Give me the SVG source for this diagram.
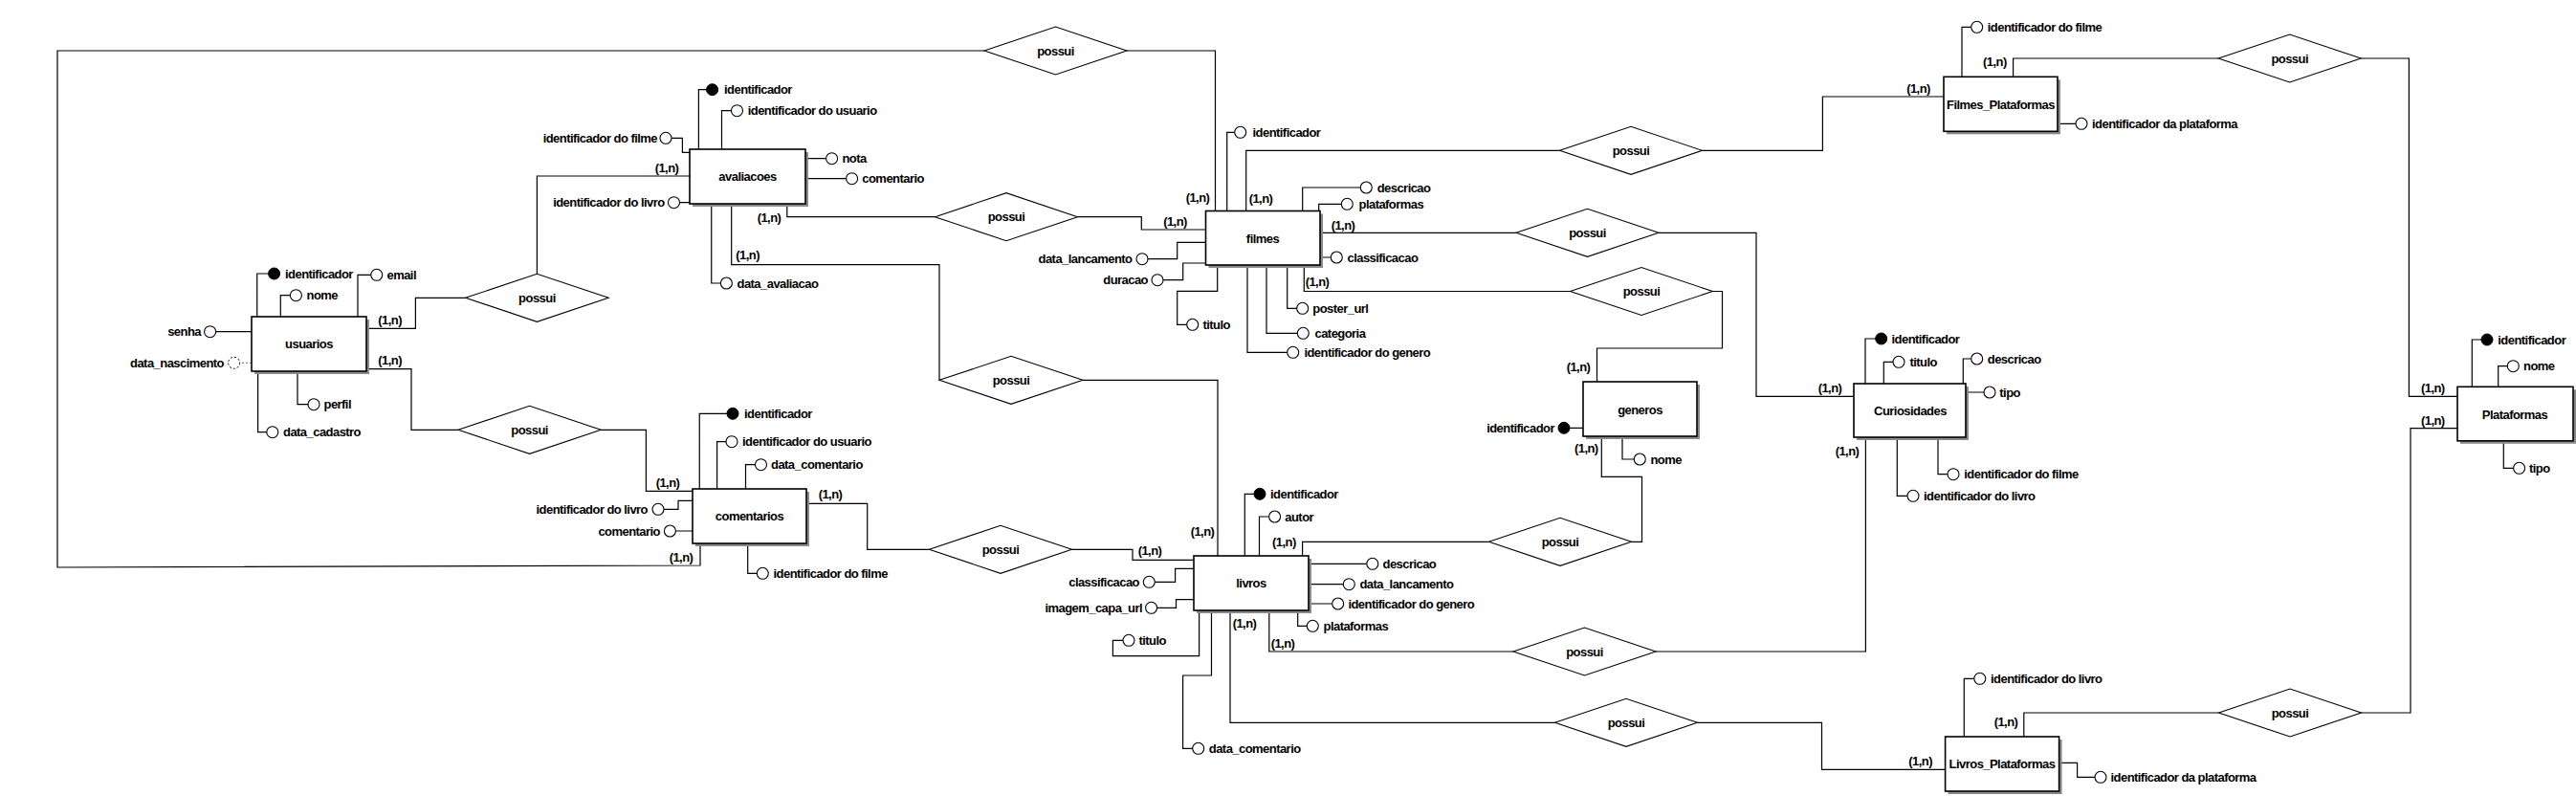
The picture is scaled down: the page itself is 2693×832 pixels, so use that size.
<svg xmlns="http://www.w3.org/2000/svg" width="2693" height="832" viewBox="0 0 2693 832">
<style>
text{font-family:"Liberation Sans",Arial,sans-serif;font-weight:bold;font-size:13px;letter-spacing:-0.55px;fill:#000}
.m{text-anchor:middle}
.r{text-anchor:end}
.sh{fill:#8a8a8a}
.box{fill:#fff;stroke:#000;stroke-width:1.6}
.dia{fill:#fff;stroke:#000;stroke-width:1.1}
.ln{fill:none;stroke:#000;stroke-width:1.2}
.at{fill:#fff;stroke:#000;stroke-width:1.1}
.pk{fill:#000;stroke:#000;stroke-width:1}
.ds{fill:#fff;stroke:#000;stroke-width:1;stroke-dasharray:2 2}
.dl{fill:none;stroke:#666;stroke-width:1;stroke-dasharray:2 2}
</style>
<rect width="2693" height="832" fill="#fff"/>

<g id="connectors">
<path class="ln" d="M732,567 V591 L60,593 V53 H1029 M1178,53 H1270.5 V220.5"/>
<path class="ln" d="M383,343.3 H434.4 V311.3 H486.6 M561.4,286.3 V184 H721"/>
<path class="ln" d="M383,385.7 H430 V449.3 H479 M628.2,449.3 H675.4 V513.3 H724"/>
<path class="ln" d="M822.8,213 V226.7 H977.5 M1126.5,226.7 H1193.3 V240 H1260.5"/>
<path class="ln" d="M764.7,213 V276.7 H982 V397.3 M1132,397.3 H1273 V581"/>
<path class="ln" d="M843,526.3 H906.7 V574.3 H971.5 M1120.5,574.3 H1184 V585.3 H1248"/>
<path class="ln" d="M1302.7,220.5 V157.3 H1630.5 M1779.5,157.3 H1905.4 V101 H2032"/>
<path class="ln" d="M1380,243.3 H1585 M1734,243.3 H1836 V414.3 H1938"/>
<path class="ln" d="M1363.3,277 V304.5 H1641.5 M1790.5,304.5 H1800.5 V364 H1669.5 V399"/>
<path class="ln" d="M1361.6,581 V566.3 H1556.5 M1705.5,566.3 H1716.5 V498.3 H1674.3 V456"/>
<path class="ln" d="M1326.8,638 V681 H1582 M1731,681 H1950.4 V457"/>
<path class="ln" d="M1286,638 V755.3 H1625.5 M1774.5,755.3 H1904.5 V804.3 H2033.6"/>
<path class="ln" d="M2104.6,80.3 V61 H2319.2 M2468.2,61 H2518.4 V414.3 H2569"/>
<path class="ln" d="M2569,447.7 H2520 V745 H2468.5 M2319.5,745 H2115.8 V770"/>
<text class="m" x="712" y="586.5">(1,n)</text>
<text class="m" x="1252" y="210.5">(1,n)</text>
<text class="m" x="407.6" y="338.5">(1,n)</text>
<text class="m" x="697" y="179.5">(1,n)</text>
<text class="m" x="407.6" y="380.5">(1,n)</text>
<text class="m" x="698" y="508.5">(1,n)</text>
<text class="m" x="804" y="231.8">(1,n)</text>
<text class="m" x="1228.5" y="235.5">(1,n)</text>
<text class="m" x="781.7" y="271.2">(1,n)</text>
<text class="m" x="1257" y="559.5">(1,n)</text>
<text class="m" x="868" y="521.2">(1,n)</text>
<text class="m" x="1202" y="580.2">(1,n)</text>
<text class="m" x="1318" y="211.5">(1,n)</text>
<text class="m" x="2005.5" y="96.8">(1,n)</text>
<text class="m" x="1404" y="239.5">(1,n)</text>
<text class="m" x="1913" y="410.2">(1,n)</text>
<text class="m" x="1377" y="299">(1,n)</text>
<text class="m" x="1650" y="387.8">(1,n)</text>
<text class="m" x="1342.4" y="570.5">(1,n)</text>
<text class="m" x="1658.3" y="472.8">(1,n)</text>
<text class="m" x="1341" y="677.2">(1,n)</text>
<text class="m" x="1931" y="476.2">(1,n)</text>
<text class="m" x="1301" y="656.2">(1,n)</text>
<text class="m" x="2007.7" y="799.5">(1,n)</text>
<text class="m" x="2085.4" y="68.5">(1,n)</text>
<text class="m" x="2543.3" y="409.5">(1,n)</text>
<text class="m" x="2543.3" y="443.5">(1,n)</text>
<text class="m" x="2097" y="758.5">(1,n)</text>
</g>

<g id="rel-comentarios-filmes"><polygon class="dia" points="1029,53 1103.5,28 1178,53 1103.5,78"/><text class="m" x="1103.5" y="57.5">possui</text></g>
<g id="rel-usuarios-avaliacoes"><polygon class="dia" points="486.6,311.3 561.4,286.3 636.2,311.3 561.4,336.3"/><text class="m" x="561.4" y="315.8">possui</text></g>
<g id="rel-usuarios-comentarios"><polygon class="dia" points="479,449.3 553.6,424.3 628.2,449.3 553.6,474.3"/><text class="m" x="553.6" y="453.8">possui</text></g>
<g id="rel-avaliacoes-filmes"><polygon class="dia" points="977.5,226.7 1052,201.7 1126.5,226.7 1052,251.7"/><text class="m" x="1052" y="231.2">possui</text></g>
<g id="rel-avaliacoes-livros"><polygon class="dia" points="982,397.3 1057,372.3 1132,397.3 1057,422.3"/><text class="m" x="1057" y="401.8">possui</text></g>
<g id="rel-comentarios-livros"><polygon class="dia" points="971.5,574.3 1046,549.3 1120.5,574.3 1046,599.3"/><text class="m" x="1046" y="578.8">possui</text></g>
<g id="rel-filmes-fp"><polygon class="dia" points="1630.5,157.3 1705,132.3 1779.5,157.3 1705,182.3"/><text class="m" x="1705" y="161.8">possui</text></g>
<g id="rel-filmes-curiosidades"><polygon class="dia" points="1585,243.3 1659.5,218.3 1734,243.3 1659.5,268.3"/><text class="m" x="1659.5" y="247.8">possui</text></g>
<g id="rel-filmes-generos"><polygon class="dia" points="1641.5,304.5 1716,279.5 1790.5,304.5 1716,329.5"/><text class="m" x="1716" y="309">possui</text></g>
<g id="rel-livros-generos"><polygon class="dia" points="1556.5,566.3 1631,541.3 1705.5,566.3 1631,591.3"/><text class="m" x="1631" y="570.8">possui</text></g>
<g id="rel-livros-curiosidades"><polygon class="dia" points="1582,681 1656.5,656 1731,681 1656.5,706"/><text class="m" x="1656.5" y="685.5">possui</text></g>
<g id="rel-livros-lp"><polygon class="dia" points="1625.5,755.3 1700,730.3 1774.5,755.3 1700,780.3"/><text class="m" x="1700" y="759.8">possui</text></g>
<g id="rel-fp-plataformas"><polygon class="dia" points="2319.2,61 2393.7,36 2468.2,61 2393.7,86"/><text class="m" x="2393.7" y="65.5">possui</text></g>
<g id="rel-lp-plataformas"><polygon class="dia" points="2319.5,745 2394,720 2468.5,745 2394,770"/><text class="m" x="2394" y="749.5">possui</text></g>

<g id="usuarios">
<path class="ln" d="M268.75,331 V286 H286.6 M293.3,331 V308.7 H309.4 M374,331 V287.3 H393.75 M263,346.7 H219.6 M311,388 V422.7 H328 M269.6,388 V451.7 H284.8"/>
<path class="dl" d="M263,379.3 H250"/>
<rect class="sh" x="266" y="334" width="120" height="57"/><rect class="box" x="263" y="331" width="120" height="57"/>
<text class="m" x="323" y="364">usuarios</text>
<circle class="pk" cx="286.6" cy="286" r="6"/><text x="298" y="290.5">identificador</text>
<circle class="at" cx="309.4" cy="308.7" r="6"/><text x="320.5" y="313.2">nome</text>
<circle class="at" cx="393.75" cy="287.3" r="6"/><text x="404.5" y="291.8">email</text>
<circle class="at" cx="219.6" cy="346.7" r="6"/><text class="r" x="210" y="351.2">senha</text>
<circle class="ds" cx="244.6" cy="379.3" r="6"/><text class="r" x="234" y="383.8">data_nascimento</text>
<circle class="at" cx="328" cy="422.7" r="6"/><text x="338.5" y="427.2">perfil</text>
<circle class="at" cx="284.8" cy="451.7" r="6"/><text x="296" y="456.2">data_cadastro</text>
</g>

<g id="avaliacoes">
<path class="ln" d="M730.4,156 V93.7 H744.6 M754.5,156 V115.7 H770.5 M721,159.3 H713.4 V144.3 H696 M721,211.7 H704.5 M842,165.7 H869.6 M842,186.7 H890.6 M743.75,213 V296 H759.4"/>
<rect class="sh" x="724" y="159" width="121" height="57"/><rect class="box" x="721" y="156" width="121" height="57"/>
<text class="m" x="781.5" y="189">avaliacoes</text>
<circle class="pk" cx="744.6" cy="93.7" r="6"/><text x="757" y="98.2">identificador</text>
<circle class="at" cx="770.5" cy="115.7" r="6"/><text x="781.7" y="120.2">identificador do usuario</text>
<circle class="at" cx="696" cy="144.3" r="6"/><text class="r" x="687" y="148.8">identificador do filme</text>
<circle class="at" cx="704.5" cy="211.7" r="6"/><text class="r" x="694.6" y="216.2">identificador do livro</text>
<circle class="at" cx="869.6" cy="165.7" r="6"/><text x="880.4" y="170.2">nota</text>
<circle class="at" cx="890.6" cy="186.7" r="6"/><text x="901.3" y="191.2">comentario</text>
<circle class="at" cx="759.4" cy="296" r="6"/><text x="770.5" y="300.5">data_avaliacao</text>
</g>

<g id="comentarios">
<path class="ln" d="M731.25,511 V432.3 H766 M749.6,511 V461.7 H765 M779.5,511 V485.7 H795.5 M724,523.3 H709 V532.3 H688 M724,555 H700.4 M781.7,568 V599.3 H797.3"/>
<rect class="sh" x="727" y="514" width="119" height="57"/><rect class="box" x="724" y="511" width="119" height="57"/>
<text class="m" x="783.5" y="544">comentarios</text>
<circle class="pk" cx="766" cy="432.3" r="6"/><text x="778" y="436.8">identificador</text>
<circle class="at" cx="765" cy="461.7" r="6"/><text x="776" y="466.2">identificador do usuario</text>
<circle class="at" cx="795.5" cy="485.7" r="6"/><text x="806" y="490.2">data_comentario</text>
<circle class="at" cx="688" cy="532.3" r="6"/><text class="r" x="677" y="536.8">identificador do livro</text>
<circle class="at" cx="700.4" cy="555" r="6"/><text class="r" x="690" y="559.5">comentario</text>
<circle class="at" cx="797.3" cy="599.3" r="6"/><text x="808.5" y="603.8">identificador do filme</text>
</g>

<g id="filmes">
<path class="ln" d="M1282.7,220.5 V138.3 H1296.7 M1361.7,220.5 V196 H1428.3 M1378.7,220.5 V213.3 H1408.3 M1380,269 H1397.3 M1345.7,277 V322.3 H1361.7 M1324,277 V348.3 H1362.3 M1304,277 V368.3 H1351.7 M1260.5,253.3 H1230.7 V270.7 H1194 M1260.5,275 H1236.7 V292.7 H1210 M1272.7,277 V304.3 H1230.7 V339.3 H1246.7"/>
<rect class="sh" x="1263.5" y="223.5" width="119.5" height="56.5"/><rect class="box" x="1260.5" y="220.5" width="119.5" height="56.5"/>
<text class="m" x="1320" y="253.5">filmes</text>
<circle class="at" cx="1296.7" cy="138.3" r="6"/><text x="1309.5" y="142.8">identificador</text>
<circle class="at" cx="1428.3" cy="196" r="6"/><text x="1439.7" y="200.5">descricao</text>
<circle class="at" cx="1408.3" cy="213.3" r="6"/><text x="1420.5" y="217.8">plataformas</text>
<circle class="at" cx="1397.3" cy="269" r="6"/><text x="1408.5" y="273.5">classificacao</text>
<circle class="at" cx="1361.7" cy="322.3" r="6"/><text x="1372.3" y="326.8">poster_url</text>
<circle class="at" cx="1362.3" cy="348.3" r="6"/><text x="1374.5" y="352.8">categoria</text>
<circle class="at" cx="1351.7" cy="368.3" r="6"/><text x="1363.4" y="372.8">identificador do genero</text>
<circle class="at" cx="1194" cy="270.7" r="6"/><text class="r" x="1183.5" y="275.2">data_lancamento</text>
<circle class="at" cx="1210" cy="292.7" r="6"/><text class="r" x="1200" y="297.2">duracao</text>
<circle class="at" cx="1246.7" cy="339.3" r="6"/><text x="1257.5" y="343.8">titulo</text>
</g>

<g id="livros">
<path class="ln" d="M1301.3,581 V516.3 H1317 M1316.5,581 V540 H1332.6 M1368,589.3 H1434.8 M1368,610.7 H1410.3 M1368,631 H1398.7 M1356.7,638 V654.3 H1372.3 M1248,594.3 H1228.6 V608.3 H1201.3 M1248,626.7 H1229.5 V635.3 H1203.6 M1253.6,638 V685.7 H1163.4 V669.3 H1180 M1266.5,638 V706 H1236.6 V782.3 H1252.7"/>
<rect class="sh" x="1251" y="584" width="120" height="57"/><rect class="box" x="1248" y="581" width="120" height="57"/>
<text class="m" x="1308" y="614">livros</text>
<circle class="pk" cx="1317" cy="516.3" r="6"/><text x="1328" y="520.8">identificador</text>
<circle class="at" cx="1332.6" cy="540" r="6"/><text x="1343.3" y="544.5">autor</text>
<circle class="at" cx="1434.8" cy="589.3" r="6"/><text x="1445.5" y="593.8">descricao</text>
<circle class="at" cx="1410.3" cy="610.7" r="6"/><text x="1421.4" y="615.2">data_lancamento</text>
<circle class="at" cx="1398.7" cy="631" r="6"/><text x="1409.4" y="635.5">identificador do genero</text>
<circle class="at" cx="1372.3" cy="654.3" r="6"/><text x="1383.5" y="658.8">plataformas</text>
<circle class="at" cx="1201.3" cy="608.3" r="6"/><text class="r" x="1191" y="612.8">classificacao</text>
<circle class="at" cx="1203.6" cy="635.3" r="6"/><text class="r" x="1194" y="639.8">imagem_capa_url</text>
<circle class="at" cx="1180" cy="669.3" r="6"/><text x="1190.5" y="673.8">titulo</text>
<circle class="at" cx="1252.7" cy="782.3" r="6"/><text x="1263.8" y="786.8">data_comentario</text>
</g>

<g id="generos">
<path class="ln" d="M1655,447.3 H1635 M1696,456 V480 H1714.3"/>
<rect class="sh" x="1658" y="402" width="119" height="57"/><rect class="box" x="1655" y="399" width="119" height="57"/>
<text class="m" x="1714.5" y="432.5">generos</text>
<circle class="pk" cx="1635" cy="447.3" r="6"/><text class="r" x="1625" y="451.8">identificador</text>
<circle class="at" cx="1714.3" cy="480" r="6"/><text x="1725.4" y="484.5">nome</text>
</g>

<g id="Curiosidades">
<path class="ln" d="M1950,401 V354 H1966.7 M1969.3,401 V378.3 H1985 M2052.3,401 V375 H2066.7 M2055,410 H2080 M2026,457 V495.7 H2042 M1983.3,457 V518.3 H2000"/>
<rect class="sh" x="1941" y="404" width="117" height="56"/><rect class="box" x="1938" y="401" width="117" height="56"/>
<text class="m" x="1997" y="433.5">Curiosidades</text>
<circle class="pk" cx="1966.7" cy="354" r="6"/><text x="1977.5" y="358.5">identificador</text>
<circle class="at" cx="1985" cy="378.3" r="6"/><text x="1996.5" y="382.8">titulo</text>
<circle class="at" cx="2066.7" cy="375" r="6"/><text x="2077.8" y="379.5">descricao</text>
<circle class="at" cx="2080" cy="410" r="6"/><text x="2090.3" y="414.5">tipo</text>
<circle class="at" cx="2042" cy="495.7" r="6"/><text x="2053.3" y="500.2">identificador do filme</text>
<circle class="at" cx="2000" cy="518.3" r="6"/><text x="2011" y="522.8">identificador do livro</text>
</g>

<g id="Filmes_Plataformas">
<path class="ln" d="M2051,80.3 V28.3 H2066.7 M2151,129.3 H2176"/>
<rect class="sh" x="2035" y="83.3" width="119" height="57"/><rect class="box" x="2032" y="80.3" width="119" height="57"/>
<text class="m" x="2091.5" y="114">Filmes_Plataformas</text>
<circle class="at" cx="2066.7" cy="28.3" r="6"/><text x="2077.8" y="32.8">identificador do filme</text>
<circle class="at" cx="2176" cy="129.3" r="6"/><text x="2187" y="133.8">identificador da plataforma</text>
</g>

<g id="Plataformas">
<path class="ln" d="M2584.3,404.3 V355 H2600 M2611.7,404.3 V382.7 H2627.3 M2617.3,461 V489.3 H2633.6"/>
<rect class="sh" x="2572" y="407.3" width="121" height="56.5"/><rect class="box" x="2569" y="404.3" width="121" height="56.5"/>
<text class="m" x="2629" y="437.5">Plataformas</text>
<circle class="pk" cx="2600" cy="355" r="6"/><text x="2611.3" y="359.5">identificador</text>
<circle class="at" cx="2627.3" cy="382.7" r="6"/><text x="2638" y="387.2">nome</text>
<circle class="at" cx="2633.6" cy="489.3" r="6"/><text x="2644" y="493.8">tipo</text>
</g>

<g id="Livros_Plataformas">
<path class="ln" d="M2053.3,770 V709.3 H2069.8 M2152.6,797.3 H2171.6 V812.3 H2196"/>
<rect class="sh" x="2036.6" y="773" width="119" height="57"/><rect class="box" x="2033.6" y="770" width="119" height="57"/>
<text class="m" x="2093" y="803">Livros_Plataformas</text>
<circle class="at" cx="2069.8" cy="709.3" r="6"/><text x="2081" y="713.8">identificador do livro</text>
<circle class="at" cx="2196" cy="812.3" r="6"/><text x="2206.5" y="816.8">identificador da plataforma</text>
</g>
</svg>
